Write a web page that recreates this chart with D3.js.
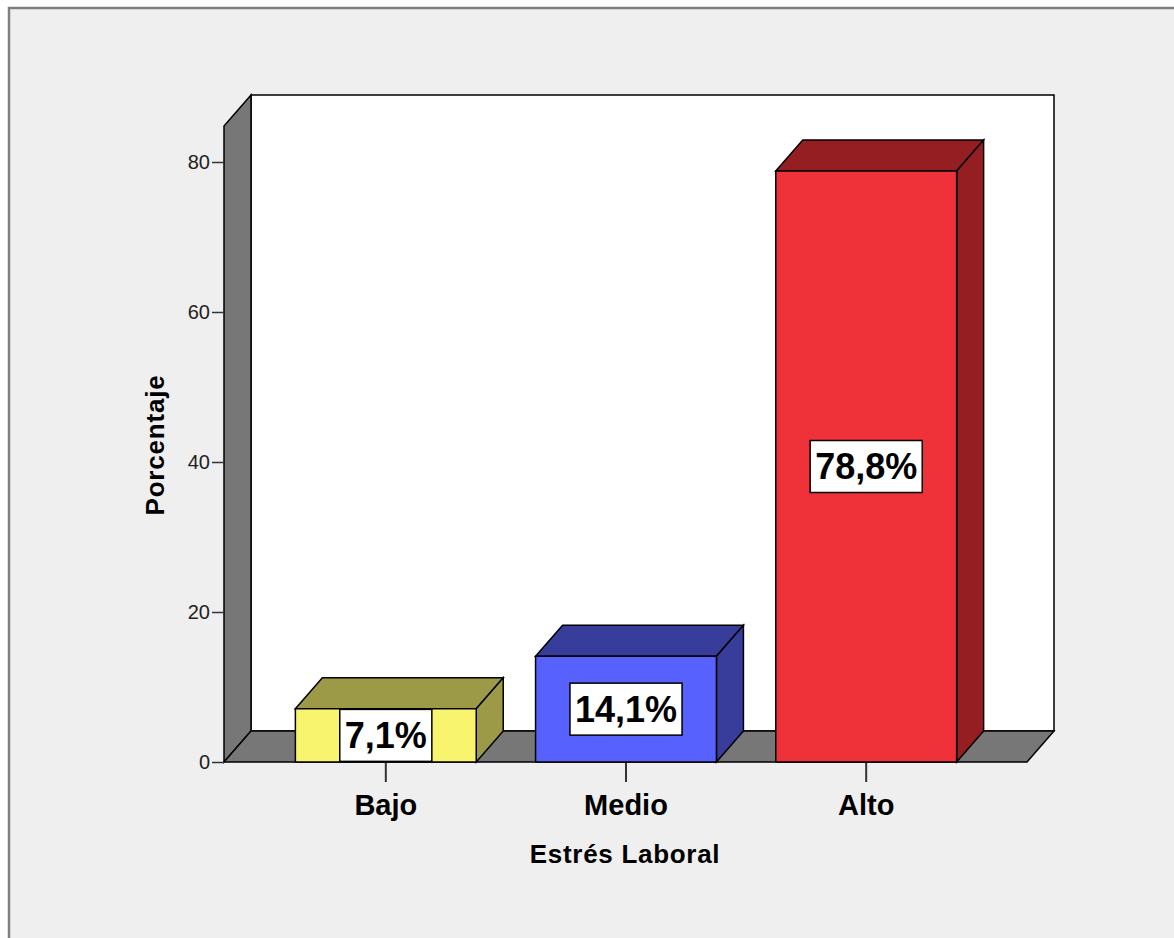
<!DOCTYPE html>
<html>
<head>
<script src="https://d3js.org/d3.v7.min.js"></script>
<style>
  body { margin: 0; background: #fff; }
  svg text { font-family: Arial, "Liberation Sans", sans-serif; }
</style>
</head>
<body>
<svg width="1174" height="938"></svg>
<script>
"use strict";

// data
var categories = ["Bajo", "Medio", "Alto"];
var values = [7.1, 14.1, 78.8];
var valueLabels = ["7,1%", "14,1%", "78,8%"];
var yTicks = [0, 20, 40, 60, 80];
var frontColors = ["#f8f46e", "#5761fd", "#ef313a"];
var darkColors = ["#9c9a47", "#383c9b", "#951e23"];
var yTop = 84.8; // top of the walls, in percent

var svg = d3.select("svg");
var DX = 27, DY = 31;

var y = d3.scaleLinear().domain([0, 80]).range([762, 162]);
var x = d3.scaleBand().domain(categories).range([225, 1027])
    .paddingInner(0.247).paddingOuter(0.293);

var x0 = 224, x1 = 1027, y0 = y(0), yT = y(yTop);

// outer frame
svg.append("rect")
    .attr("x", 9).attr("y", 8).attr("width", 1300).attr("height", 1100)
    .attr("fill", "#efefef").attr("stroke", "#7f7f7f").attr("stroke-width", 2.5);

var poly = function(pts) { return "M" + pts.map(p => p.join(",")).join("L") + "Z"; };

// back wall
svg.append("path")
    .attr("d", poly([[x0 + DX, yT - DY], [x1 + DX, yT - DY], [x1 + DX, y0 - DY], [x0 + DX, y0 - DY]]))
    .attr("fill", "#fff").attr("stroke", "#000").attr("stroke-width", 1.5);
// left wall
svg.append("path")
    .attr("d", poly([[x0, yT], [x0 + DX, yT - DY], [x0 + DX, y0 - DY], [x0, y0]]))
    .attr("fill", "#777").attr("stroke", "#000").attr("stroke-width", 1.5);
// floor
svg.append("path")
    .attr("d", poly([[x0, y0], [x0 + DX, y0 - DY], [x1 + DX, y0 - DY], [x1, y0]]))
    .attr("fill", "#777").attr("stroke", "#000").attr("stroke-width", 1.5);

// y axis
var yAxis = svg.append("g")
    .attr("transform", "translate(" + x0 + ",0)")
    .call(d3.axisLeft(y).tickValues(yTicks).tickSize(12).tickPadding(2));
yAxis.select(".domain").remove();
yAxis.selectAll("line").attr("stroke", "#333").attr("stroke-width", 1.5);
yAxis.selectAll("text").attr("font-size", 20).attr("fill", "#222")
    .attr("font-family", "Arial, 'Liberation Sans', sans-serif");

// x axis
var xAxis = svg.append("g")
    .attr("transform", "translate(0," + y0 + ")")
    .call(d3.axisBottom(x).tickSize(20).tickPadding(12));
xAxis.select(".domain").remove();
xAxis.selectAll("line").attr("stroke", "#333").attr("stroke-width", 2);
xAxis.selectAll("text").attr("font-size", 29).attr("font-weight", "bold").attr("fill", "#000")
    .attr("font-family", "Arial, 'Liberation Sans', sans-serif");

// bars
var bars = svg.selectAll("g.bar")
    .data(categories.map((c, i) => ({ cat: c, v: values[i], label: valueLabels[i], front: frontColors[i], dark: darkColors[i] })))
    .enter().append("g").attr("class", "bar");

bars.each(function(d) {
    var g = d3.select(this);
    var bx0 = x(d.cat), bx1 = x(d.cat) + x.bandwidth(), yt = y(d.v);
    g.append("path")
        .attr("d", poly([[bx0, yt], [bx0 + DX, yt - DY], [bx1 + DX, yt - DY], [bx1, yt]]))
        .attr("fill", d.dark).attr("stroke", "#000").attr("stroke-width", 1.5);
    g.append("path")
        .attr("d", poly([[bx1, yt], [bx1 + DX, yt - DY], [bx1 + DX, y0 - DY], [bx1, y0]]))
        .attr("fill", d.dark).attr("stroke", "#000").attr("stroke-width", 1.5);
    g.append("rect")
        .attr("x", bx0).attr("y", yt).attr("width", bx1 - bx0).attr("height", y0 - yt)
        .attr("fill", d.front).attr("stroke", "#000").attr("stroke-width", 1.5);

    var cx = (bx0 + bx1) / 2, cy = (yt + y0) / 2;
    var box = g.append("rect");
    var t = g.append("text")
        .attr("x", cx).attr("y", cy).attr("dy", "0.36em")
        .attr("text-anchor", "middle")
        .attr("font-size", 36).attr("font-weight", "bold")
        .text(d.label);
    var w = t.node().getBBox().width + 10;
    box.attr("x", cx - w / 2).attr("y", cy - 26).attr("width", w).attr("height", 52)
        .attr("fill", "#fff").attr("stroke", "#000").attr("stroke-width", 1.5);
});

// axis titles
svg.append("text")
    .attr("x", 625).attr("y", 863)
    .attr("text-anchor", "middle")
    .attr("font-size", 26).attr("font-weight", "bold")
    .attr("letter-spacing", 0.7)
    .text("Estrés Laboral");

svg.append("text")
    .attr("transform", "translate(164,445) rotate(-90)")
    .attr("text-anchor", "middle")
    .attr("font-size", 26).attr("font-weight", "bold")
    .attr("letter-spacing", 0.8)
    .text("Porcentaje");
</script>
</body>
</html>
